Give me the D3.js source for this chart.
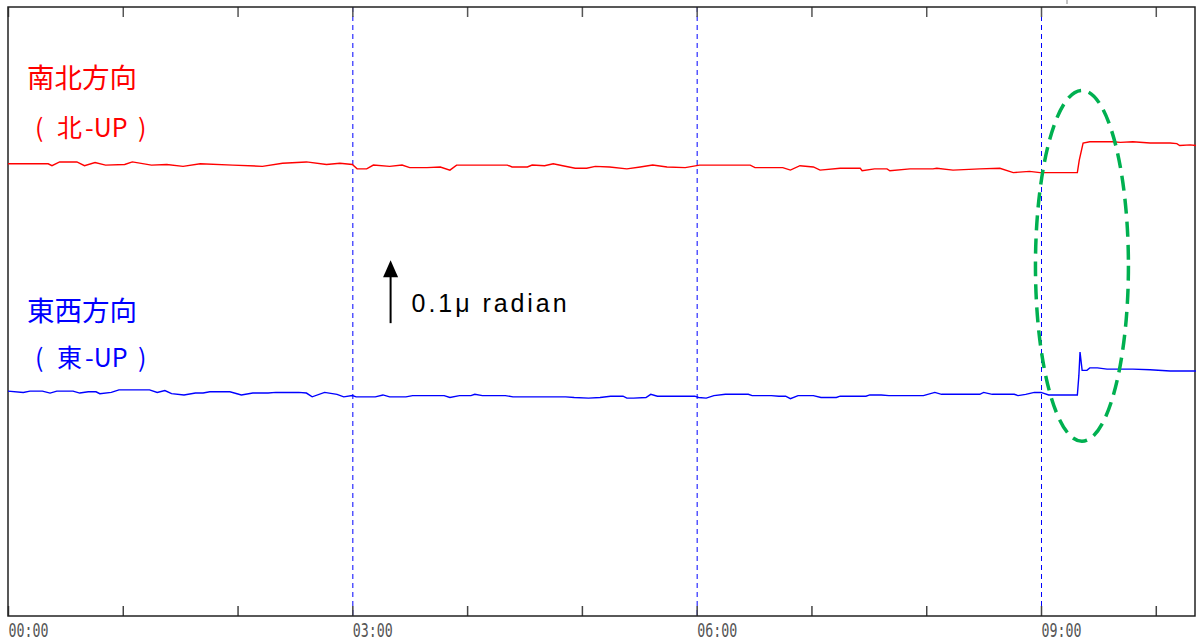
<!DOCTYPE html>
<html>
<head>
<meta charset="utf-8">
<script src="https://cdn.jsdelivr.net/npm/d3@7"></script>
<style>
  body { margin: 0; background: #fff; }
</style>
</head>
<body>
<svg id="chart" width="1196" height="644"></svg>
<script>
// 時刻（00:00 からの分）と傾斜変化（nrad）
const nsTime = [0,11.5,21,23,27,36,40,45.5,51,61,65,75,83,91.5,100.5,117.5,133,143.5,156,166.5,
  173.5,180,182.5,187.5,191,199.5,206,210,219,226,231,234.5,261,263.5,271.5,274,280.5,285,290,296.5,
  302.5,307,314.5,323.5,330.5,337,344.5,354,361.5,388,390.5,405,409,414,421,424.5,435,445.5,446.5,453,
  459.5,461,471.5,483.5,485.5,494,508,518.5,525.5,534,539.5,559,560,562,565.5,577.5,581.5,588,597,607.5,
  611,612.5,618,621];
const nsTilt = [0,0,0,-3,3,3,-3,2,-2,-1,3,-2,-1,-4,0,-2,-4,1,3,-1,
  1,-1,-8,-8,-2,-4,-2,-6,-6,-5,-10,-2,-2,-5,-5,-2,-3,0,-3,-7,
  -7,-4,-5,-8,-5,-2,-5,-6,-2,-2,-6,-6,-10,-3,-5,-10,-7,-7,-11,-8,
  -8,-11,-8,-8,-7,-10,-8,-7,-14,-12,-14,-14,6,33,35,35,34,35,33,33,
  32,29,30,29];

const ewTime = [0,8,11.5,18,22,25.5,34,37.5,42,46,48,54,58,74,78,82,85.5,92,98,102,
  105.5,116,122,128,136,140,148,152,156,159,165.5,172,175.5,180,182,192,196,199.5,208,211.5,
  228,231,236,242,244,248,260,264,291.5,296,303.5,309.5,315,321.5,323.5,327,333.5,336,339.5,347,
  349,359,361,365,369,375,387,389,399,403,406.5,409,413,421,425,433,435,448.5,450.5,456.5,
  460.5,478.5,484.5,488,496,500,508,510,514.5,526,528,532,536.5,540,544,559,559.8,560.4,561.5,564,
  565.5,569.5,574.5,588,597,607.5,621];
const ewTilt = [0,-2,0,0,-3,0,0,-3,-1,-1,-4,-2,2,2,-2,1,-4,-6,-3,-3,
  -1,-1,-6,-3,-3,-2,-2,-2,-3,-9,-2,-5,-9,-7,-9,-9,-6,-9,-9,-7,
  -7,-10,-7,-7,-5,-7,-7,-9,-9,-10,-11,-10,-8,-8,-11,-11,-10,-5,-8,-8,
  -8,-8,-10,-11,-7,-5,-5,-7,-7,-8,-8,-12,-7,-7,-10,-10,-8,-8,-6,-6,
  -7,-7,-2,-5,-5,-5,-5,-2,-5,-5,-7,-5,-2,-2,-6,-6,25,62,33,33,
  37,37,35,35,34,32,32];

const nsOffset = 718, ewOffset = 357;     // 描画上のトレース位置 (nrad)
const tickMinutes = [0,60,120,180,240,300,360,420,480,540,600];
const labelMinutes = [0,180,360,540];
const guideMinutes = [180,360,540];
const scaleBar = { t: 200, from: 465, len: 100 };   // 0.1μ radian
const circle = { t: 561.4, v: 556, rt: 24.3, rv: 278.6 };

const svg = d3.select('#chart');
const pLeft = 8, pTop = 7, pRight = 1195, pBottom = 616;

const x = d3.scaleLinear().domain([0, 620.5]).range([pLeft, pRight]);
const y = d3.scaleLinear().domain([0, 967]).range([pBottom, pTop]);

const fmt = m => d3.format('02')(Math.floor(m / 60)) + ':' + d3.format('02')(m % 60);

// 3時間ごとの青い破線
svg.append('g').selectAll('line')
  .data(guideMinutes)
  .join('line')
  .attr('x1', d => x(d) + 0.5).attr('x2', d => x(d) + 0.5)
  .attr('y1', pTop).attr('y2', pBottom)
  .attr('stroke', '#0000ff')
  .attr('stroke-width', 1)
  .attr('stroke-dasharray', '5 4');

// 軸（内向きの目盛）
const axB = svg.append('g')
  .attr('transform', `translate(0,${pBottom})`)
  .call(d3.axisBottom(x).tickValues(tickMinutes).tickSize(-10).tickPadding(0)
    .tickFormat(d => labelMinutes.includes(d) ? fmt(d) : ''));
axB.select('.domain').remove();
axB.selectAll('.tick line').attr('stroke', '#444').attr('stroke-width', 1.5);
axB.selectAll('.tick text')
  .attr('y', 21).attr('dy', 0)
  .attr('text-anchor', 'start')
  .attr('fill', '#555')
  .style('font-family', 'DejaVu Sans Mono, monospace')
  .style('font-size', '20px')
  .each(function () {
    if (this.textContent) d3.select(this).attr('textLength', 40).attr('lengthAdjust', 'spacingAndGlyphs');
  });

const axT = svg.append('g')
  .attr('transform', `translate(0,${pTop})`)
  .call(d3.axisTop(x).tickValues(tickMinutes).tickSize(-10).tickFormat(''));
axT.select('.domain').remove();
axT.selectAll('.tick line').attr('stroke', '#555').attr('stroke-width', 1.5);

// 上の小さな切れ目
svg.append('line')
  .attr('x1', 1067).attr('x2', 1067).attr('y1', 0).attr('y2', 4)
  .attr('stroke', '#888').attr('stroke-width', 1);

// 枠
svg.append('rect')
  .attr('x', pLeft).attr('y', pTop)
  .attr('width', pRight - pLeft).attr('height', pBottom - pTop)
  .attr('fill', 'none')
  .attr('stroke', '#222')
  .attr('stroke-width', 1.5);

// トレース
const ns = nsTime.map((t, i) => [t, nsTilt[i] + nsOffset]);
const ew = ewTime.map((t, i) => [t, ewTilt[i] + ewOffset]);
const line = d3.line().x(d => x(d[0])).y(d => y(d[1]));

svg.append('path').datum(ns)
  .attr('d', line)
  .attr('fill', 'none')
  .attr('stroke', '#ff0000')
  .attr('stroke-width', 1.4);

svg.append('path').datum(ew)
  .attr('d', line)
  .attr('fill', 'none')
  .attr('stroke', '#0000ff')
  .attr('stroke-width', 1.4);

// 緑の破線の楕円
svg.append('ellipse')
  .attr('cx', x(circle.t))
  .attr('cy', y(circle.v))
  .attr('rx', x(circle.t + circle.rt) - x(circle.t))
  .attr('ry', y(circle.v - circle.rv) - y(circle.v))
  .attr('fill', 'none')
  .attr('stroke', '#00b050')
  .attr('stroke-width', 3.5)
  .attr('stroke-dasharray', '15 8');

// スケール矢印
const ax = x(scaleBar.t);
const y0 = y(scaleBar.from), y1 = y(scaleBar.from + scaleBar.len);
svg.append('line')
  .attr('x1', ax).attr('x2', ax).attr('y1', y0).attr('y2', y1 + 14)
  .attr('stroke', '#000').attr('stroke-width', 2);
svg.append('path')
  .attr('d', `M${ax},${y1} L${ax - 7.5},${y1 + 17} L${ax + 7.5},${y1 + 17} Z`)
  .attr('fill', '#000');
svg.append('text')
  .attr('x', ax + 21).attr('y', 312)
  .attr('textLength', 155).attr('lengthAdjust', 'spacing')
  .style('font-family', 'Liberation Sans, Arial, sans-serif')
  .style('font-size', '25px')
  .attr('fill', '#000')
  .text('0.1μ radian');

// ラベル
const jp = 'Noto Sans CJK JP, sans-serif';
function label(title, dir, color, yTitle, yDir) {
  svg.append('text')
    .attr('x', 27).attr('y', yTitle)
    .style('font-family', jp).style('font-size', '27.5px')
    .attr('fill', color)
    .text(title);
  const t = svg.append('text')
    .attr('y', yDir)
    .style('font-family', jp).style('font-size', '25px')
    .attr('fill', color);
  t.append('tspan').attr('x', 35).text('(');
  t.append('tspan').attr('x', 57).text(dir);
  t.append('tspan').attr('x', 85).text('-UP');
  t.append('tspan').attr('x', 138).text(')');
}
label('南北方向', '北', '#ff0000', 88, 137);
label('東西方向', '東', '#0000ff', 321, 367);
</script>
</body>
</html>
